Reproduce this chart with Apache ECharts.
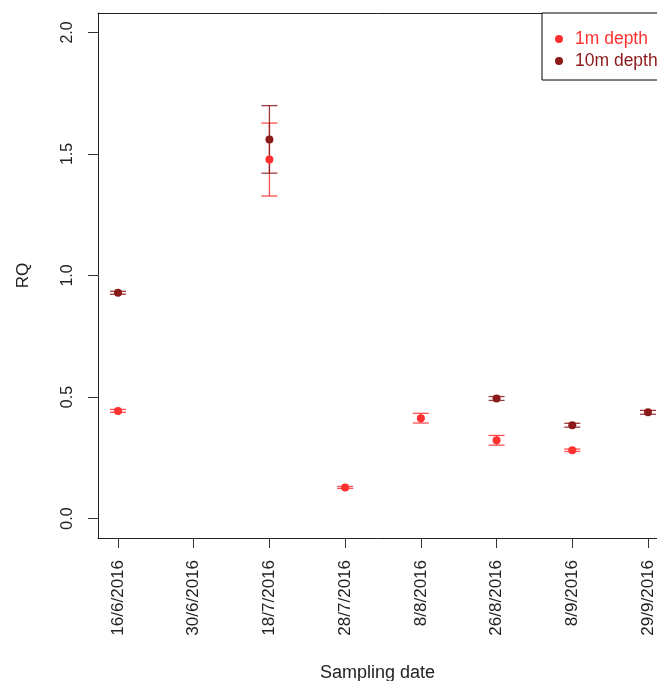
<!DOCTYPE html>
<html><head><meta charset="utf-8">
<script src="https://cdn.jsdelivr.net/npm/echarts@6/dist/echarts.min.js"></script>
<style>html,body{margin:0;padding:0;background:#fff}#c{width:657px;height:681px}</style>
</head><body><div id="c"></div>
<script>
const categories = ['16/6/2016','30/6/2016','18/7/2016','28/7/2016','8/8/2016','26/8/2016','8/9/2016','29/9/2016'];
const rq1m   = [0.443, null, 1.477, 0.128, 0.413, 0.322, 0.281, null];
const err1m  = [0.006, null, 0.150, 0.004, 0.020, 0.020, 0.005, null];
const rq10m  = [0.929, null, 1.560, null, null, 0.494, 0.384, 0.437];
const err10m = [0.006, null, 0.139, null, null, 0.008, 0.008, 0.008];
const yTicks = [0, 0.5, 1.0, 1.5, 2.0];
const xTicks = [1, 2, 3, 4, 5, 6, 7, 8];
const seriesNames = ['1m depth', '10m depth'];

const C1 = '#ff3030', C10 = '#8b1a1a';
const FONT = 'Liberation Sans, Arial, sans-serif';
const XMIN = 0.736, XMAX = 8.119;

function pts(vals){ const o=[]; vals.forEach((v,i)=>{ if(v!==null) o.push([i+1,v]); }); return o; }
function errs(vals, e){ const o=[]; vals.forEach((v,i)=>{ if(v!==null) o.push([i+1, v-e[i], v+e[i]]); }); return o; }

function errRender(color){
  return function(params, api){
    const x = api.value(0);
    const lo = api.coord([x, api.value(1)]);
    const hi = api.coord([x, api.value(2)]);
    const hw = 8;
    const st = {stroke: color, lineWidth: 1.3};
    return {type:'group', children:[
      {type:'line', shape:{x1:lo[0], y1:lo[1], x2:hi[0], y2:hi[1]}, style:st},
      {type:'line', shape:{x1:lo[0]-hw, y1:lo[1], x2:lo[0]+hw, y2:lo[1]}, style:st},
      {type:'line', shape:{x1:hi[0]-hw, y1:hi[1], x2:hi[0]+hw, y2:hi[1]}, style:st}
    ]};
  };
}

const chart = echarts.init(document.getElementById('c'), null, {renderer:'canvas'});
chart.setOption({
  animation:false,
  backgroundColor:'#fff',
  textStyle:{fontFamily:FONT},
  grid:{left:98, top:13, right:0, height:525, show:false, containLabel:false, outerBoundsMode:'none'},
  legend:{
    orient:'vertical', left:542, top:13,
    padding:[15,100,8,13], itemGap:0,
    itemWidth:22, itemHeight:8, icon:'circle',
    borderColor:'#000', borderWidth:1, backgroundColor:'#fff',
    selectedMode:false,
    textStyle:{fontSize:17.5, fontFamily:FONT, lineHeight:22, height:22},
    data:[
      {name:seriesNames[0], textStyle:{color:C1}, itemStyle:{color:C1}},
      {name:seriesNames[1], textStyle:{color:C10}, itemStyle:{color:C10}}
    ]
  },
  xAxis:[{
    type:'value', min:XMIN, max:XMAX, position:'bottom',
    name:'Sampling date', nameLocation:'middle', nameGap:126,
    nameTextStyle:{fontSize:18, color:'#222', fontFamily:FONT},
    axisLine:{show:true, onZero:false, lineStyle:{color:'#222', width:1}}, splitLine:{show:false},
    axisTick:{show:true, length:10, customValues:xTicks, lineStyle:{color:'#333'}},
    axisLabel:{rotate:90, margin:22, fontSize:17, color:'#222', fontFamily:FONT,
      customValues:xTicks, formatter:v=>categories[Math.round(v)-1]}
  },{
    type:'value', min:XMIN, max:XMAX, position:'top',
    axisLine:{show:true, onZero:false, lineStyle:{color:'#222', width:1}},
    axisTick:{show:false}, axisLabel:{show:false}, splitLine:{show:false}
  }],
  yAxis:{
    type:'value', min:-0.08, max:2.08,
    name:'RQ', nameLocation:'middle', nameGap:66, nameRotate:90,
    nameTextStyle:{fontSize:17, color:'#222', fontFamily:FONT},
    axisLine:{show:true, onZero:false, lineStyle:{color:'#222', width:1}}, splitLine:{show:false},
    axisTick:{show:true, length:10, customValues:yTicks, lineStyle:{color:'#333'}},
    axisLabel:{rotate:90, margin:22, fontSize:16, color:'#222', fontFamily:FONT,
      customValues:yTicks, formatter:v=>v.toFixed(1)}
  },
  series:[
    {name:seriesNames[0], type:'custom', renderItem:errRender('rgba(255,48,48,0.85)'), data:errs(rq1m, err1m), z:2},
    {name:seriesNames[1], type:'custom', renderItem:errRender('rgba(139,26,26,0.85)'), data:errs(rq10m, err10m), z:2},
    {name:seriesNames[0], type:'scatter', symbol:'circle', symbolSize:8, itemStyle:{color:C1, opacity:1}, data:pts(rq1m), z:3},
    {name:seriesNames[1], type:'scatter', symbol:'circle', symbolSize:8, itemStyle:{color:C10, opacity:1}, data:pts(rq10m), z:3}
  ]
});
</script></body></html>
